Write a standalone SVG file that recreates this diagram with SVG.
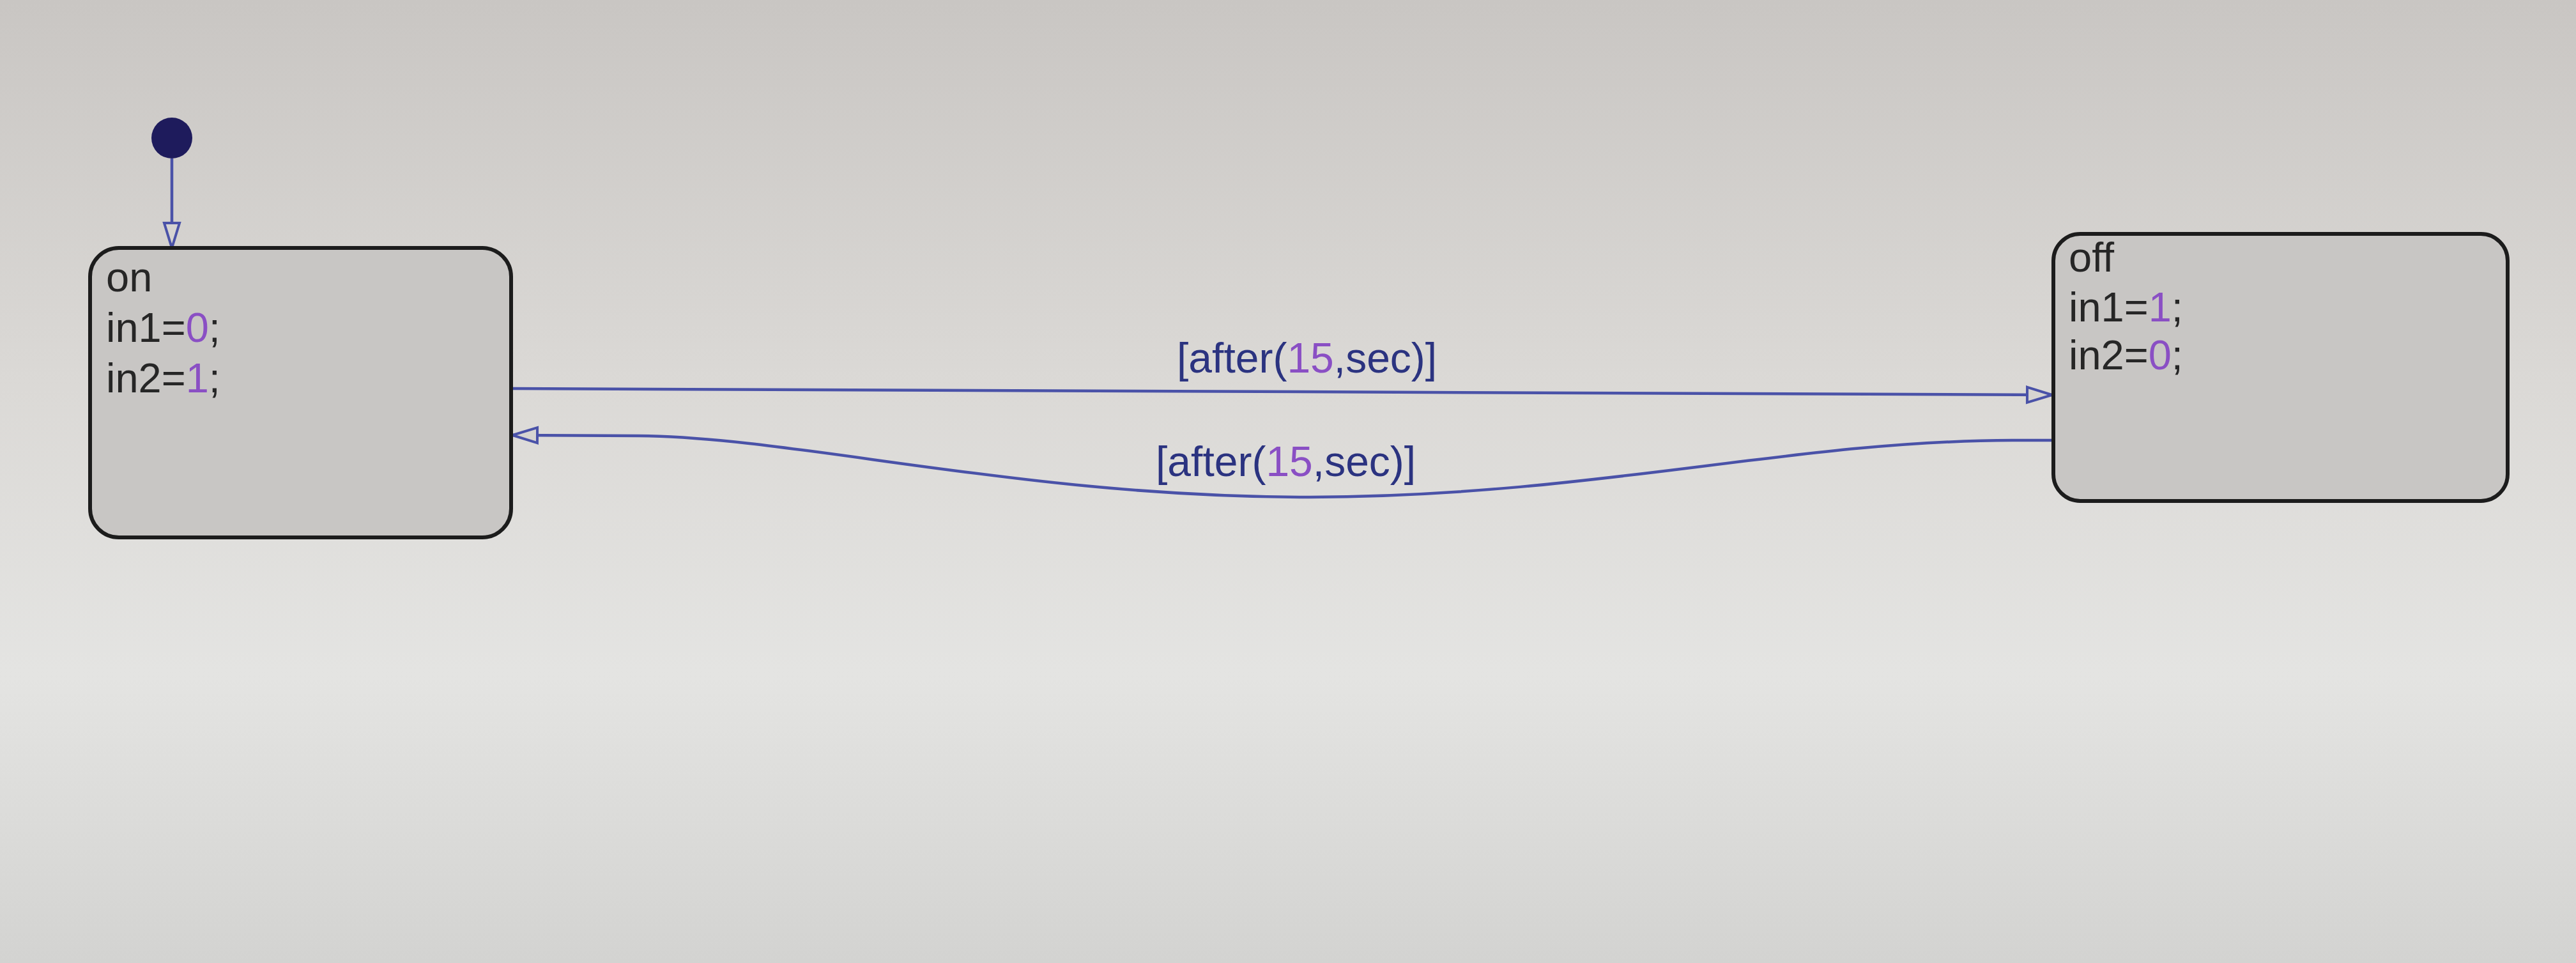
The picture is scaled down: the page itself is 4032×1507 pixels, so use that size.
<svg xmlns="http://www.w3.org/2000/svg" width="4032" height="1507" viewBox="0 0 4032 1507">
  <defs>
    <linearGradient id="bg" x1="0" y1="0" x2="0" y2="1">
      <stop offset="0" stop-color="#c9c6c3"/>
      <stop offset="0.4" stop-color="#dbd9d6"/>
      <stop offset="0.7" stop-color="#e4e4e2"/>
      <stop offset="1" stop-color="#d3d3d1"/>
    </linearGradient>
    <marker id="arrow" markerUnits="userSpaceOnUse" markerWidth="44" markerHeight="32" viewBox="0 0 44 32" refX="42" refY="16" orient="auto">
      <path d="M3,4 L42,16 L3,28 Z" fill="#d6d4d1" stroke="#4a52a8" stroke-width="4" stroke-linejoin="miter"/>
    </marker>
    <style>
      .state { fill: #c8c6c4; stroke: #1c1c1c; stroke-width: 6; }
      .stxt { font-family: "Liberation Sans", Arial, sans-serif; font-size: 65px; fill: #262626; }
      .num { fill: #8a4fc4; }
      .conn { fill: none; stroke: #4a52a8; stroke-width: 4.5; }
      .lbl { font-family: "Liberation Sans", Arial, sans-serif; font-size: 66px; fill: #2b3380; }
    </style>
  </defs>
  <rect x="0" y="0" width="4032" height="1507" fill="url(#bg)"/>

  <g id="connectors">
    <path class="conn" d="M269,248 L269,388" marker-end="url(#arrow)"/>
    <path class="conn" d="M800,608 L3212,618" marker-end="url(#arrow)"/>
    <path class="conn" d="M3214,689 L3150,689 C2800,690 2500,776 2050,778 C1600,778 1250,684 1000,682 L802,681" marker-end="url(#arrow)"/>
    <text class="lbl" x="1842" y="583">[after(<tspan class="num">15</tspan>,sec)]</text>
    <text class="lbl" x="1809" y="745">[after(<tspan class="num">15</tspan>,sec)]</text>
  </g>

  <g id="initial">
    <circle cx="269" cy="216" r="32" fill="#1e1b5c"/>
  </g>

  <g id="state-on">
    <rect class="state" x="141" y="388" width="659" height="453" rx="45" ry="45"/>
    <text class="stxt" x="166" y="456">on</text>
    <text class="stxt" x="166" y="535">in1=<tspan class="num">0</tspan>;</text>
    <text class="stxt" x="166" y="614">in2=<tspan class="num">1</tspan>;</text>
  </g>

  <g id="state-off">
    <rect class="state" x="3214" y="366" width="711" height="418" rx="42" ry="42"/>
    <text class="stxt" x="3238" y="425">off</text>
    <text class="stxt" x="3238" y="503">in1=<tspan class="num">1</tspan>;</text>
    <text class="stxt" x="3238" y="578">in2=<tspan class="num">0</tspan>;</text>
  </g>
</svg>
